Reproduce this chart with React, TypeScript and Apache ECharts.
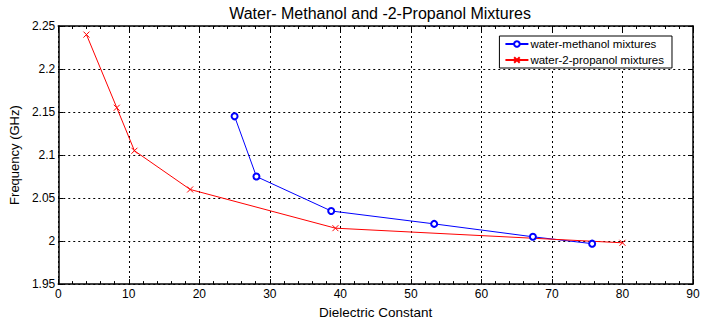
import React, { useEffect, useRef } from "react";
import * as echarts from "echarts";

const methanolX = [25, 28.1, 38.7, 53.3, 67.3, 75.7];
const methanolY = [2.145, 2.075, 2.035, 2.02, 2.005, 1.997];
const propanolX = [4, 8.3, 10.8, 18.7, 39.3, 80];
const propanolY = [2.24, 2.155, 2.105, 2.06, 2.015, 1.998];
const seriesNames = ["water-methanol mixtures", "water-2-propanol mixtures"];
const titleText = "Water- Methanol and -2-Propanol Mixtures";
const xName = "Dielectric Constant";
const yName = "Frequency (GHz)";

const FONT = "'Liberation Sans', Arial, sans-serif";

export default function App() {
  const ref = useRef<HTMLDivElement>(null);
  useEffect(() => {
    if (!ref.current) return;
    const chart = echarts.init(ref.current, undefined, { renderer: "svg" });
    const gridLine = { show: true, lineStyle: { color: "#000", type: [2, 3], width: 1 } };
    const axisLine = { show: true, onZero: false, lineStyle: { color: "#000", width: 1.5 } };
    chart.setOption({
      animation: false,
      backgroundColor: "#fff",
      textStyle: { fontFamily: FONT },
      title: {
        text: titleText,
        left: 375,
        top: 0,
        textAlign: "center",
        textStyle: { fontFamily: FONT, fontSize: 16, fontWeight: "normal", color: "#000" },
      },
      legend: {
        right: 40,
        top: 36,
        orient: "vertical",
        backgroundColor: "#fff",
        borderColor: "#000",
        borderWidth: 1,
        borderRadius: 0,
        padding: [2, 8, 2, 5],
        itemGap: 4,
        itemWidth: 23,
        itemHeight: 7,
        textStyle: { fontFamily: FONT, fontSize: 11.5, color: "#000", padding: [0, 0, 0, -3] },
        data: seriesNames,
      },
      grid: { left: 56, right: 19, top: 26, bottom: 36 },
      xAxis: [
        {
          type: "value",
          min: 0,
          max: 90,
          interval: 10,
          name: xName,
          nameLocation: "middle",
          nameGap: 15,
          nameTextStyle: { fontFamily: FONT, fontSize: 13.5, color: "#000" },
          axisLine,
          axisTick: { show: true, inside: true, length: 5, lineStyle: { color: "#000" } },
          minorTick: { show: true, splitNumber: 5, length: 3, lineStyle: { color: "#000" } },
          axisLabel: { fontFamily: FONT, fontSize: 12, color: "#000", margin: 4 },
          splitLine: gridLine,
        },
        {
          type: "value",
          position: "top",
          min: 0,
          max: 90,
          interval: 10,
          axisLine,
          axisTick: { show: true, inside: true, length: 5, lineStyle: { color: "#000" } },
          minorTick: { show: true, splitNumber: 5, length: 3, lineStyle: { color: "#000" } },
          axisLabel: { show: false },
          splitLine: { show: false },
        },
      ],
      yAxis: [
        {
          type: "value",
          min: 1.95,
          max: 2.25,
          interval: 0.05,
          name: yName,
          nameLocation: "middle",
          nameGap: 34,
          nameTextStyle: { fontFamily: FONT, fontSize: 13, color: "#000" },
          axisLine,
          axisTick: { show: true, inside: true, length: 5, lineStyle: { color: "#000" } },
          axisLabel: {
            fontFamily: FONT,
            fontSize: 12,
            color: "#000",
            margin: 3,
            formatter: (v: number) => String(parseFloat(v.toFixed(2))),
          },
          splitLine: gridLine,
        },
        {
          type: "value",
          position: "right",
          min: 1.95,
          max: 2.25,
          interval: 0.05,
          axisLine,
          axisTick: { show: true, inside: true, length: 5, lineStyle: { color: "#000" } },
          axisLabel: { show: false },
          splitLine: { show: false },
        },
      ],
      series: [
        {
          name: seriesNames[0],
          type: "line",
          data: methanolX.map((x, i) => [x, methanolY[i]]),
          symbol: "emptyCircle",
          symbolSize: 6,
          lineStyle: { color: "#0000ff", width: 1 },
          itemStyle: { color: "#0000ff", borderColor: "#0000ff", borderWidth: 1 },
        },
        {
          name: seriesNames[1],
          type: "line",
          data: propanolX.map((x, i) => [x, propanolY[i]]),
          symbol: "path://M0,0L10,10M10,0L0,10",
          symbolSize: 6,
          lineStyle: { color: "#ff0000", width: 1 },
          itemStyle: { color: "#ff0000", borderColor: "#ff0000", borderWidth: 1 },
        },
      ],
    });
    return () => chart.dispose();
  }, []);
  return <div ref={ref} style={{ width: 712, height: 324, position: "absolute", left: 0, top: 0 }} />;
}
